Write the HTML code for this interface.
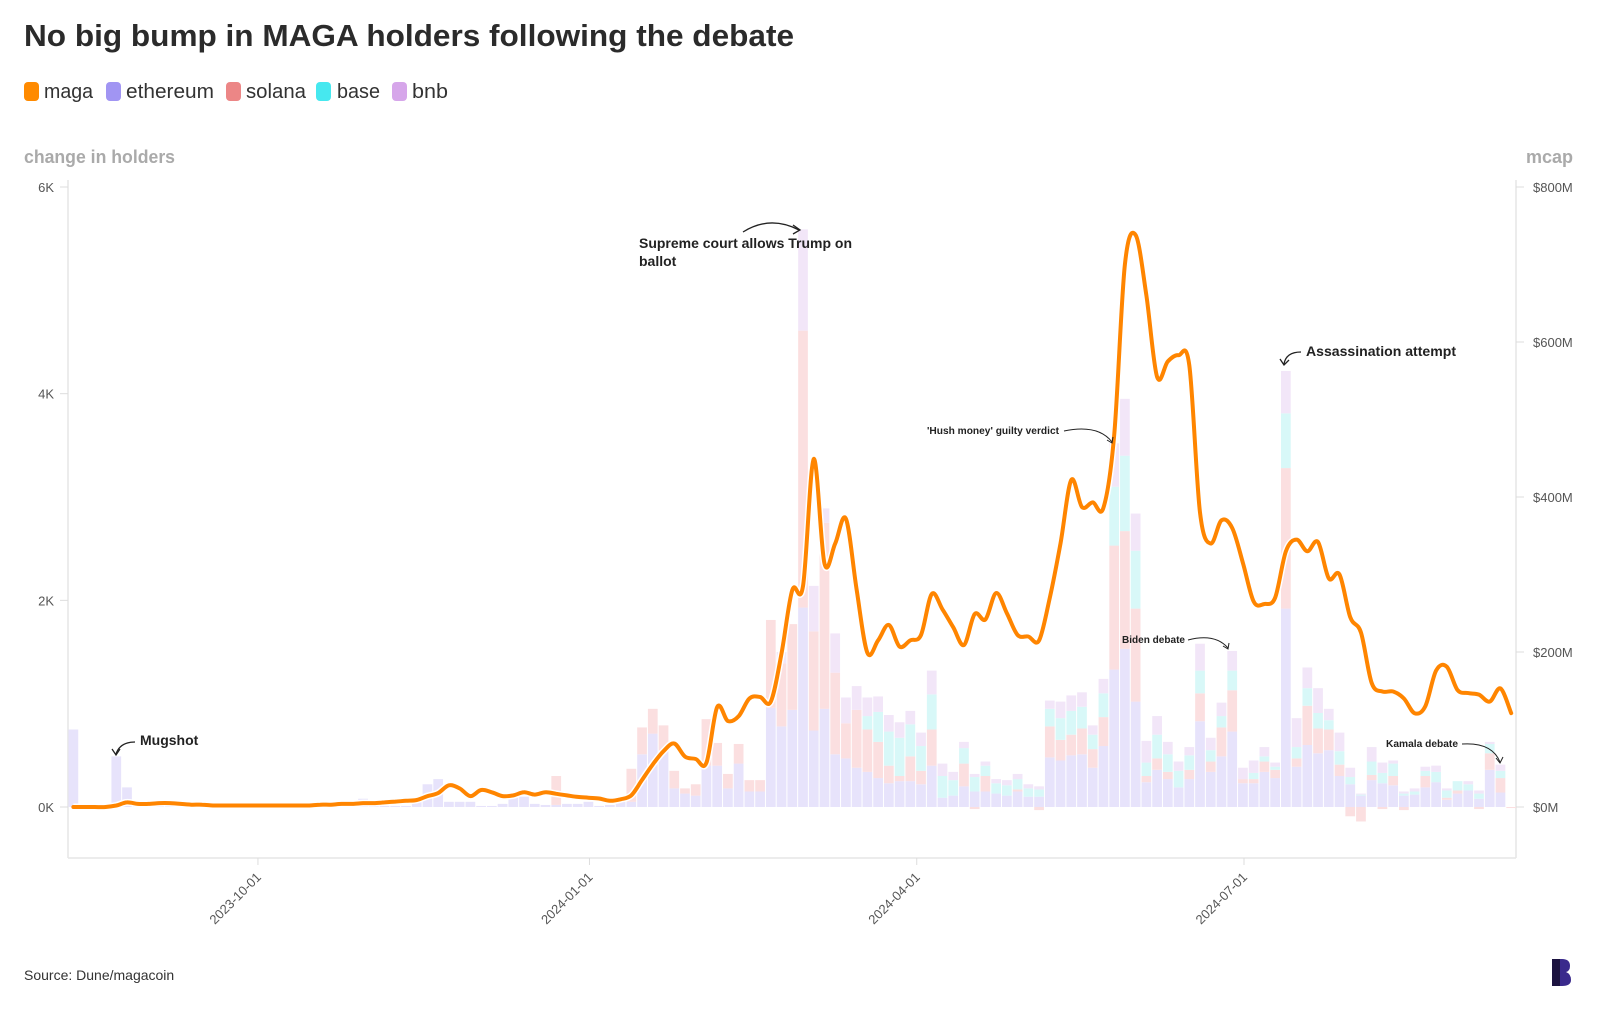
<!DOCTYPE html>
<html><head><meta charset="utf-8"><style>
html,body{margin:0;padding:0;background:#fff;}
svg{display:block;font-family:"Liberation Sans",sans-serif;}
</style></head><body>
<svg id="chart" width="1600" height="1017" viewBox="0 0 1600 1017">
<text x="24" y="46" font-size="31" font-weight="bold" fill="#2b2b2b" textLength="770" lengthAdjust="spacingAndGlyphs">No big bump in MAGA holders following the debate</text>
<g>
<g><rect x="24" y="82" width="15" height="19" rx="4" fill="#ff8a00"/><text x="44" y="98" font-size="20" fill="#333" textLength="49" lengthAdjust="spacingAndGlyphs">maga</text></g>
<g><rect x="106" y="82" width="15" height="19" rx="4" fill="#a195f3"/><text x="126" y="98" font-size="20" fill="#333" textLength="88" lengthAdjust="spacingAndGlyphs">ethereum</text></g>
<g><rect x="226" y="82" width="15" height="19" rx="4" fill="#ec8686"/><text x="246" y="98" font-size="20" fill="#333" textLength="60" lengthAdjust="spacingAndGlyphs">solana</text></g>
<g><rect x="316" y="82" width="15" height="19" rx="4" fill="#46e8ef"/><text x="337" y="98" font-size="20" fill="#333" textLength="43" lengthAdjust="spacingAndGlyphs">base</text></g>
<g><rect x="392" y="82" width="15" height="19" rx="4" fill="#d6a6ea"/><text x="412" y="98" font-size="20" fill="#333" textLength="36" lengthAdjust="spacingAndGlyphs">bnb</text></g>
</g>
<text x="24" y="163" font-size="18" font-weight="bold" fill="#aaa" textLength="151" lengthAdjust="spacingAndGlyphs">change in holders</text>
<text x="1573" y="163" font-size="18" font-weight="bold" fill="#aaa" text-anchor="end">mcap</text>
<g id="axes"></g>
<g id="bars"></g>
<g id="line"></g>
<g font-weight="bold" fill="#222">
<text x="140" y="745" font-size="14">Mugshot</text>
<path d="M135 742 Q120 742 116 754" fill="none" stroke="#222" stroke-width="1.3"/>
<path d="M112 749 L116 755 L120 749" fill="none" stroke="#222" stroke-width="1.3"/>
<text x="639" y="248" font-size="14" textLength="213" lengthAdjust="spacingAndGlyphs">Supreme court allows Trump on</text>
<text x="639" y="266" font-size="14">ballot</text>
<path d="M743 232 Q770 215 799 230" fill="none" stroke="#222" stroke-width="1.3"/>
<path d="M793 225 L800 230 L793 234" fill="none" stroke="#222" stroke-width="1.3"/>
<text x="927" y="434" font-size="10" textLength="132" lengthAdjust="spacingAndGlyphs">'Hush money' guilty verdict</text>
<path d="M1064 431 Q1098 424 1112 442" fill="none" stroke="#222" stroke-width="1"/>
<path d="M1107 440 L1112 443 L1113 437" fill="none" stroke="#222" stroke-width="1"/>
<text x="1306" y="356" font-size="14" textLength="150" lengthAdjust="spacingAndGlyphs">Assassination attempt</text>
<path d="M1301 352 Q1286 352 1284 364" fill="none" stroke="#222" stroke-width="1.3"/>
<path d="M1280 359 L1284 365 L1289 360" fill="none" stroke="#222" stroke-width="1.3"/>
<text x="1122" y="643" font-size="10" textLength="63" lengthAdjust="spacingAndGlyphs">Biden debate</text>
<path d="M1188 640 Q1215 633 1228 648" fill="none" stroke="#222" stroke-width="1"/>
<path d="M1223 646 L1228 649 L1229 643" fill="none" stroke="#222" stroke-width="1"/>
<text x="1386" y="747" font-size="10" textLength="72" lengthAdjust="spacingAndGlyphs">Kamala debate</text>
<path d="M1462 744 Q1492 742 1500 762" fill="none" stroke="#222" stroke-width="1"/>
<path d="M1496 758 L1500 763 L1503 757" fill="none" stroke="#222" stroke-width="1"/>
</g>
<text x="24" y="980" font-size="14" fill="#333">Source: Dune/magacoin</text>
<g>
<path d="M1552 959 L1562 959 Q1570 959 1570 966 Q1570 971 1566 972 Q1571 974 1571 980 Q1571 986 1562 986 L1552 986 Z" fill="#3a2a8c"/>
<path d="M1552 959 L1560 959 L1560 986 L1552 986 Z" fill="#1c1340"/>
</g>
</svg>
<script>
const categories = ['2023-08-13','2024-09-13']; // bar i = 3-day bins from start
const tickLabels = ['2023-10-01','2024-01-01','2024-04-01','2024-07-01'];
const tickIndex = [17.7, 48.6, 79.1, 109.6];
const leftTicks = [0,2,4,6];
const leftTickLabels = ['0K','2K','4K','6K'];
const rightTicks = [0,200,400,600,800];
const rightTickLabels = ['$0M','$200M','$400M','$600M','$800M'];
const eth = [.75,0,0,0,.49,.19,.03,.03,.01,.01,.01,.01,.01,.01,.01,.01,.01,.01,.01,.01,.01,.01,.04,.01,.01,.01,.01,.08,.01,.01,.01,.01,.09,.22,.27,.05,.05,.05,.01,.01,.03,.1,.1,.03,.02,.02,.03,.03,.05,.01,.02,.05,.05,.51,.71,.55,.18,.13,.11,.40,.40,.18,.42,.15,.15,.96,.78,.94,1.93,.74,.95,.51,.47,.38,.34,.28,.23,.25,.25,.22,.40,.09,.11,.2,.15,.15,.13,.11,.15,.1,.1,.48,.45,.5,.51,.38,.59,1.33,1.53,1.02,.24,.36,.27,.19,.27,.83,.34,.49,.73,.23,.23,.34,.28,1.92,.39,.6,.52,.55,.3,.22,.11,.26,.23,.21,.11,.12,.19,.24,.07,.13,.16,.08,.36,.14,0];
const solana = [0,0,0,0,0,0,0,0,0,0,0,0,0,0,0,0,0,0,0,0,0,0,0,0,0,0,0,0,0,0,0,0,0,0,0,0,0,0,0,0,0,0,0,0,0,.28,0,0,0,0,0,0,.32,.26,.24,.24,.17,.05,.11,.45,.22,.14,.19,.11,.11,.85,.61,.83,2.68,.96,1.8,.79,.34,.56,.41,.35,.17,.05,.24,.13,.35,0,0,.22,-.02,.15,0,0,.02,0,-.03,.30,.2,.2,.25,.18,.28,1.2,1.14,.9,.06,.11,.07,0,.09,.27,.1,.28,.4,.04,.04,.1,.08,1.36,.08,.38,.24,.2,.11,-.09,-.14,.05,-.02,.09,-.03,0,.11,0,.02,.03,0,-.02,.16,.14,-.01];
const base = [0,0,0,0,0,0,0,0,0,0,0,0,0,0,0,0,0,0,0,0,0,0,0,0,0,0,0,0,0,0,0,0,0,0,0,0,0,0,0,0,0,0,0,0,0,0,0,0,0,0,0,0,0,0,0,0,0,0,0,0,0,0,0,0,0,0,0,0,0,0,0,0,0,0,.13,.29,.33,.37,.31,.24,.34,.21,.15,.15,.14,.1,.1,.1,.1,.08,.07,.17,.21,.23,.21,.14,.23,.57,.73,.56,.13,.23,.17,.16,.14,.22,.11,.11,.19,0,.06,.05,.03,.53,.11,.17,.15,.09,.13,.07,.01,.13,.1,.12,.02,.03,.05,.1,.07,.09,.06,.05,.09,.07,0];
const bnb = [0,0,0,0,0,0,0,0,0,0,0,0,0,0,0,0,0,0,0,0,0,0,0,0,0,0,0,0,0,0,0,0,0,0,0,0,0,0,0,0,0,0,0,0,0,0,0,0,0,0,0,0,0,0,0,0,0,0,0,0,0,0,0,0,0,0,.11,0,.98,.44,.14,.38,.25,.23,.18,.15,.16,.15,.13,.13,.23,.12,.08,.06,.03,.04,.04,.05,.05,.04,.03,.08,.16,.15,.14,.09,.14,.42,.55,.36,.21,.18,.12,.09,.08,.26,.12,.13,.19,.11,.12,.09,.04,.41,.28,.2,.24,.11,.18,.09,.01,.14,.1,.03,.02,.03,.04,.06,.02,0,.03,.03,.02,.06,0];
const mcap = [0,0,0,0,2,6,4,4,5,5,4,3,3,2,2,2,2,2,2,2,2,2,2,3,3,4,4,5,5,6,7,8,9,14,18,28,24,14,22,19,14,15,19,16,19,17,15,13,12,11,8,10,15,35,55,72,82,65,62,57,129,111,117,140,142,136,198,280,285,449,314,340,372,280,199,215,235,207,215,222,275,255,232,209,249,242,276,250,222,220,215,270,340,422,387,393,386,480,700,738,660,555,575,583,570,380,340,370,360,315,265,262,270,330,345,330,342,295,300,245,225,160,149,149,140,121,130,176,181,151,147,145,136,153,121];

const NS='http://www.w3.org/2000/svg';
const X0=68, X1=1516, Y0=807, PITCH=10.73;
function xBand(i){return X0+i*PITCH;}
function yL(v){return Y0 - v*103.33;}
function yR(m){return Y0 - m*0.775;}
function mk(tag,attrs,parent){const e=document.createElementNS(NS,tag);for(const k in attrs)e.setAttribute(k,attrs[k]);parent.appendChild(e);return e;}

const axes=document.getElementById('axes');
let a=mk('line',{x1:X0,y1:180,x2:X0,y2:858,stroke:'#e6e6e6','stroke-width':1.5},axes);


a=mk('line',{x1:X1,y1:180,x2:X1,y2:858,stroke:'#e6e6e6','stroke-width':1.5},axes);


a=mk('line',{x1:X0,y1:858,x2:X1,y2:858,stroke:'#e6e6e6','stroke-width':1.5},axes);


leftTicks.forEach((v,k)=>{
  const y=yL(v);
  mk('line',{x1:X0-8,y1:y,x2:X0,y2:y,stroke:'#ddd','stroke-width':1},axes);
  const t=mk('text',{x:X0-14,y:y+5,'font-size':13,fill:'#555','text-anchor':'end'},axes);
  t.textContent=leftTickLabels[k];
  
  
});
rightTicks.forEach((v,k)=>{
  const y=yR(v);
  mk('line',{x1:X1,y1:y,x2:X1+8,y2:y,stroke:'#ddd','stroke-width':1},axes);
  const t=mk('text',{x:X1+17,y:y+5,'font-size':13,fill:'#555'},axes);
  t.textContent=rightTickLabels[k];
  
  
});
tickIndex.forEach((ti,k)=>{
  const x=xBand(ti);
  mk('line',{x1:x,y1:858,x2:x,y2:865,stroke:'#ddd','stroke-width':1},axes);
  const t=mk('text',{x:x+4,y:878,'font-size':13,fill:'#555','text-anchor':'end',transform:'rotate(-45 '+(x+4)+' 878)'},axes);
  t.textContent=tickLabels[k];
  
  
});

const bars=document.getElementById('bars');
const series=[[eth,'#e7e3fb','eth'],[solana,'#fbdfe0','solana'],[base,'#d8f8f8','base'],[bnb,'#f2e6f8','bnb']];
for(let i=0;i<eth.length;i++){
  let pos=0,neg=0;
  series.forEach(([arr,col,nm])=>{
    const v=arr[i]||0; if(v===0)return;
    let y1,y2;
    if(v>0){y1=yL(pos+v);y2=yL(pos);pos+=v;}else{y1=yL(neg);y2=yL(neg+v);neg+=v;}
    const r=mk('rect',{x:xBand(i)+0.5,y:y1,width:PITCH-1,height:Math.max(0,y2-y1),fill:col},bars);
    
    
  });
}

const lg=document.getElementById('line');
const pts=mcap.map((m,i)=>[xBand(i)+PITCH/2,yR(m)]);
let d='M'+pts[0][0]+' '+pts[0][1];
for(let i=0;i<pts.length-1;i++){
  const p0=pts[Math.max(0,i-1)],p1=pts[i],p2=pts[i+1],p3=pts[Math.min(pts.length-1,i+2)];
  const c1x=p1[0]+(p2[0]-p0[0])/6,c1y=p1[1]+(p2[1]-p0[1])/6;
  const c2x=p2[0]-(p3[0]-p1[0])/6,c2y=p2[1]-(p3[1]-p1[1])/6;
  d+=' C'+c1x.toFixed(1)+' '+c1y.toFixed(1)+' '+c2x.toFixed(1)+' '+c2y.toFixed(1)+' '+p2[0].toFixed(1)+' '+p2[1].toFixed(1);
}
const halo=mk('path',{d:d,fill:'none',stroke:'#fff','stroke-width':7,'stroke-linejoin':'round'},lg);


const ln=mk('path',{d:d,fill:'none',stroke:'#ff8500','stroke-width':4,'stroke-linejoin':'round','stroke-linecap':'round'},lg);


</script>
</body></html>
